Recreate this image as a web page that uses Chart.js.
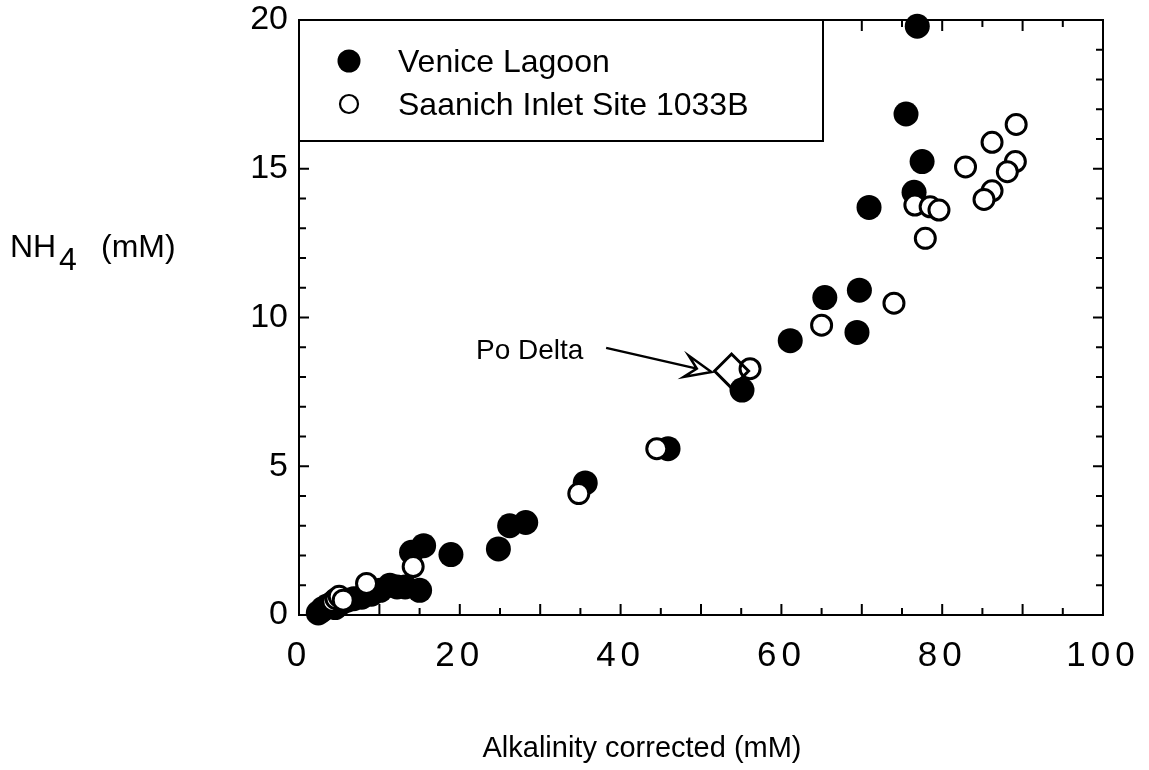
<!DOCTYPE html>
<html>
<head>
<meta charset="utf-8">
<script src="https://cdn.jsdelivr.net/npm/chart.js@4.4.0/dist/chart.umd.min.js"></script>
<style>
  html, body { margin: 0; padding: 0; background: #fff; }
  #wrap { width: 1149px; height: 770px; }
</style>
</head>
<body>
<div id="wrap"><canvas id="nh4Chart" width="1149" height="770"></canvas></div>
<script>
// Venice Lagoon (filled circles)
const veniceAlk = [2.4, 2.8, 3.0, 3.5, 4.0, 4.5, 5.2, 6.0, 6.8, 7.8, 9.0, 10.1, 11.3, 12.2, 13.2, 15.0,
  14.0, 15.5, 18.9, 24.8, 26.2, 28.2, 35.6, 45.9, 55.1, 61.1, 65.4, 69.7, 69.4, 70.9, 76.5, 77.5, 75.5, 76.9];
const veniceNH4 = [0.07, 0.15, 0.22, 0.3, 0.35, 0.25, 0.4, 0.5, 0.55, 0.6, 0.7, 0.83, 1.0, 0.94, 0.94, 0.83,
  2.11, 2.33, 2.03, 2.22, 3.0, 3.11, 4.44, 5.59, 7.56, 9.22, 10.67, 10.92, 9.5, 13.7, 14.21, 15.24, 16.84, 19.79];

// Saanich Inlet Site 1033B (open circles)
const saanichAlk = [4.2, 4.6, 5.0, 5.5, 8.4, 14.2, 34.8, 44.5, 56.1, 65.0, 74.0, 76.6, 78.5, 79.6, 77.9,
  82.9, 86.2, 89.2, 89.1, 88.1, 86.2, 85.2];
const saanichNH4 = [0.45, 0.55, 0.63, 0.5, 1.06, 1.63, 4.08, 5.59, 8.28, 9.74, 10.48, 13.78, 13.72, 13.61, 12.66,
  15.06, 15.89, 16.49, 15.24, 14.9, 14.26, 13.97];

// Po Delta (diamond)
const poDeltaAlk = [53.8];
const poDeltaNH4 = [8.2];

const xTicks = [0, 20, 40, 60, 80, 100];
const yTicks = [0, 5, 10, 15, 20];
const legendLabels = ['Venice Lagoon', 'Saanich Inlet Site 1033B'];

const FONT = "'Liberation Sans', Arial, sans-serif";

const toPoints = (xs, ys) => xs.map((x, i) => ({ x: x, y: ys[i] }));

// inward ticks on all four sides, frame, legend box, titles, annotation
const frameTicks = {
  id: 'frameTicks',
  beforeDatasetsDraw(chart) {
    const { ctx, chartArea: a, scales: { x, y } } = chart;
    ctx.save();
    ctx.strokeStyle = '#000';
    ctx.lineWidth = 2;
    ctx.strokeRect(a.left, a.top, a.right - a.left, a.bottom - a.top);
    ctx.beginPath();
    for (let v = 5; v < 100; v += 5) {
      const px = x.getPixelForValue(v);
      const len = v % 10 === 0 ? 11 : 7;
      ctx.moveTo(px, a.bottom); ctx.lineTo(px, a.bottom - len);
      ctx.moveTo(px, a.top); ctx.lineTo(px, a.top + len);
    }
    for (let v = 1; v < 20; v++) {
      const py = y.getPixelForValue(v);
      const len = v % 5 === 0 ? 10 : 7;
      ctx.moveTo(a.left, py); ctx.lineTo(a.left + len, py);
      ctx.moveTo(a.right, py); ctx.lineTo(a.right - len, py);
    }
    ctx.stroke();
    ctx.restore();
  },
  afterDatasetsDraw(chart) {
    // x tick labels are drawn after this (ticks.z = 1) and are letter-spaced
    chart.ctx.letterSpacing = '5px';
  },
  afterDraw(chart) {
    const { ctx, chartArea: a, scales: { x, y } } = chart;
    ctx.letterSpacing = '0px';
    ctx.save();
    ctx.fillStyle = '#000';
    ctx.strokeStyle = '#000';

    // legend box
    ctx.lineWidth = 2;
    ctx.fillStyle = '#fff';
    ctx.fillRect(a.left, a.top, 524, 121);
    ctx.strokeRect(a.left, a.top, 524, 121);
    ctx.fillStyle = '#000';
    ctx.beginPath();
    ctx.arc(a.left + 50, a.top + 41, 11.5, 0, Math.PI * 2);
    ctx.fill();
    ctx.beginPath();
    ctx.lineWidth = 2.2;
    ctx.arc(a.left + 50, a.top + 84, 9, 0, Math.PI * 2);
    ctx.stroke();
    ctx.font = '32px ' + FONT;
    ctx.textAlign = 'left';
    ctx.textBaseline = 'alphabetic';
    ctx.fillText(legendLabels[0], a.left + 99, a.top + 52);
    ctx.fillText(legendLabels[1], a.left + 99, a.top + 95);

    // axis titles
    ctx.font = '29px ' + FONT;
    ctx.textAlign = 'center';
    ctx.fillText('Alkalinity corrected (mM)', 642, 757);
    ctx.font = '32px ' + FONT;
    ctx.textAlign = 'left';
    ctx.fillText('NH', 10, 257);
    ctx.fillText('4', 59, 270);
    ctx.fillText('(mM)', 101, 257);

    // Po Delta annotation
    ctx.font = '28px ' + FONT;
    ctx.textAlign = 'center';
    ctx.fillText('Po Delta', x.getPixelForValue(28.7), y.getPixelForValue(8.6));
    const tipX = x.getPixelForValue(51.3), tipY = y.getPixelForValue(8.17);
    const startX = x.getPixelForValue(38.2), startY = y.getPixelForValue(8.98);
    const ang = Math.atan2(tipY - startY, tipX - startX);
    const back = (d, off) => [tipX - d * Math.cos(ang) - off * Math.sin(ang), tipY - d * Math.sin(ang) + off * Math.cos(ang)];
    const notch = back(15, 0), w1 = back(26, -11), w2 = back(26, 11);
    ctx.lineWidth = 2.5;
    ctx.lineJoin = 'miter';
    ctx.beginPath();
    ctx.moveTo(startX, startY);
    ctx.lineTo(notch[0], notch[1]);
    ctx.moveTo(w1[0], w1[1]);
    ctx.lineTo(tipX, tipY);
    ctx.lineTo(w2[0], w2[1]);
    ctx.lineTo(notch[0], notch[1]);
    ctx.closePath();
    ctx.stroke();
    ctx.restore();
  }
};

new Chart(document.getElementById('nh4Chart'), {
  type: 'scatter',
  data: {
    datasets: [
      {
        label: legendLabels[0],
        data: toPoints(veniceAlk, veniceNH4),
        pointStyle: 'circle',
        pointRadius: 12.5,
        backgroundColor: '#000',
        borderColor: '#000',
        borderWidth: 0,
        clip: false,
        order: 3
      },
      {
        label: legendLabels[1],
        data: toPoints(saanichAlk, saanichNH4),
        pointStyle: 'circle',
        pointRadius: 10,
        backgroundColor: '#fff',
        borderColor: '#000',
        borderWidth: 3,
        clip: false,
        order: 2
      },
      {
        label: 'Po Delta',
        data: toPoints(poDeltaAlk, poDeltaNH4),
        pointStyle: 'rectRot',
        pointRadius: 17,
        backgroundColor: 'rgba(255,255,255,0)',
        borderColor: '#000',
        borderWidth: 3,
        clip: false,
        order: 1
      }
    ]
  },
  options: {
    responsive: false,
    animation: false,
    layout: { padding: { top: 15, right: 46, left: 0, bottom: 0 } },
    plugins: {
      legend: { display: false },
      tooltip: { enabled: false }
    },
    scales: {
      x: {
        type: 'linear',
        min: 0,
        max: 100,
        afterBuildTicks: s => { s.ticks = xTicks.map(v => ({ value: v })); },
        afterFit: s => { s.height = 155; s.paddingLeft = 0; s.paddingRight = 0; },
        grid: { display: false, drawTicks: false },
        border: { display: false },
        ticks: { z: 1, padding: 20, color: '#000', font: { family: FONT, size: 35 }, maxRotation: 0 }
      },
      y: {
        type: 'linear',
        min: 0,
        max: 20,
        afterBuildTicks: s => { s.ticks = yTicks.map(v => ({ value: v })); },
        afterFit: s => { s.width = 299; s.paddingTop = 0; s.paddingBottom = 0; },
        grid: { display: false, drawTicks: false },
        border: { display: false },
        ticks: { padding: 11, color: '#000', font: { family: FONT, size: 34 } }
      }
    }
  },
  plugins: [frameTicks]
});
</script>
</body>
</html>
